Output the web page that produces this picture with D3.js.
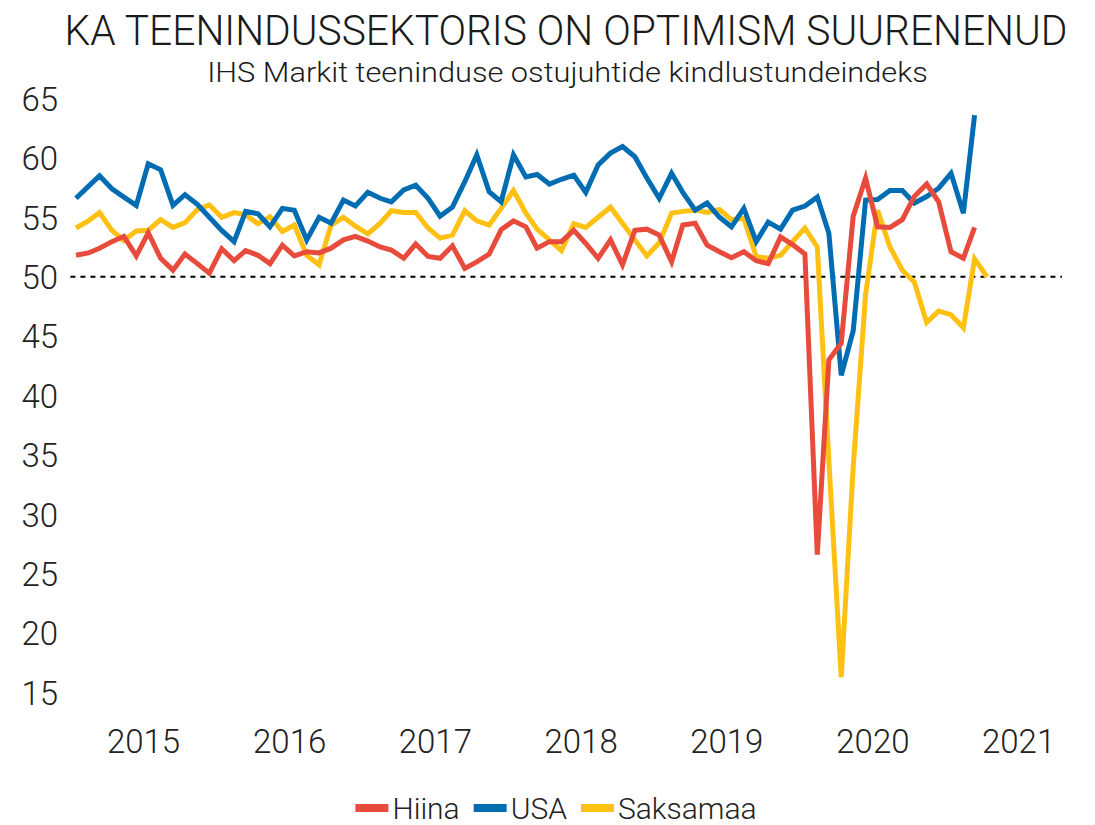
<!DOCTYPE html>
<html>
<head>
<meta charset="utf-8">
<script src="https://cdn.jsdelivr.net/npm/d3@7"></script>
<style>
  html, body { margin: 0; padding: 0; background: #fff; }
  svg { display: block; }
  text { font-family: Roboto, "Noto Sans", "DejaVu Sans", sans-serif; fill: #222; font-weight: 300; }
</style>
</head>
<body>
<svg id="chart" width="1095" height="825"></svg>
<script>
// ---- data ----
const startYear = 2015;
const startMonth = 0; // January 2015
const seriesNames = ["Hiina", "USA", "Saksamaa"];
const seriesColors = ["#e84a3b", "#006db3", "#ffc014"];

const hiina = [51.8, 52.0, 52.4, 52.95, 53.4, 51.75, 53.7, 51.55, 50.55, 51.9, 51.1, 50.3,
  52.35, 51.35, 52.2, 51.8, 51.1, 52.65, 51.75, 52.1, 52.0, 52.4, 53.1, 53.4,
  53.0, 52.5, 52.25, 51.55, 52.75, 51.7, 51.55, 52.6, 50.7, 51.25, 51.9, 53.95,
  54.7, 54.2, 52.4, 52.95, 52.95, 53.9, 52.8, 51.55, 53.1, 51.0, 53.9, 54.0,
  53.5, 51.25, 54.35, 54.5, 52.65, 52.1, 51.6, 52.1, 51.35, 51.1, 53.35, 52.7,
  51.9, 26.6, 43.0, 44.4, 55.1, 58.3, 54.2, 54.15, 54.8, 56.75, 57.8, 56.3,
  52.1, 51.55, 54.15];

const usa = [56.6, 57.6, 58.5, 57.4, 56.7, 56.0, 59.5, 59.0, 56.0, 56.9, 56.1, 55.0,
  53.9, 52.95, 55.5, 55.3, 54.2, 55.75, 55.6, 53.1, 55.0, 54.5, 56.45, 55.95,
  57.1, 56.6, 56.3, 57.3, 57.7, 56.6, 55.1, 55.85, 58.0, 60.25, 57.15, 56.3,
  60.25, 58.4, 58.6, 57.8, 58.2, 58.55, 57.1, 59.4, 60.4, 60.95, 60.1, 58.3,
  56.6, 58.7, 57.1, 55.6, 56.2, 55.0, 54.2, 55.75, 52.95, 54.6, 54.0, 55.6,
  55.95, 56.7, 53.65, 41.7, 45.45, 56.45, 56.5, 57.25, 57.25, 56.2, 56.75, 57.45,
  58.7, 55.35, 63.6];

const saksamaa = [54.1, 54.7, 55.4, 53.9, 53.05, 53.85, 53.9, 54.8, 54.15, 54.55, 55.65, 56.05,
  55.0, 55.4, 55.2, 54.45, 55.05, 53.8, 54.35, 51.8, 51.0, 54.35, 55.0, 54.25,
  53.6, 54.5, 55.55, 55.4, 55.4, 54.1, 53.25, 53.5, 55.55, 54.7, 54.35, 55.75,
  57.25, 55.35, 54.0, 53.1, 52.2, 54.45, 54.15, 55.0, 55.85, 54.5, 53.1, 51.75,
  52.85, 55.35, 55.5, 55.6, 55.4, 55.65, 54.8, 54.9, 51.7, 51.55, 51.8, 52.95,
  54.1, 52.5, 34.5, 16.3, 34.0, 48.5, 55.6, 52.5, 50.55, 49.55, 46.15, 47.1,
  46.8, 45.7, 51.5, 50.0];

const yTicks = [65, 60, 55, 50, 45, 40, 35, 30, 25, 20, 15];
const xYears = [2015, 2016, 2017, 2018, 2019, 2020, 2021];
const referenceLevel = 50;

const titleText = "KA TEENINDUSSEKTORIS ON OPTIMISM SUURENENUD";
const subtitleText = "IHS Markit teeninduse ostujuhtide kindlustundeindeks";

// ---- build ----
const svg = d3.select("#chart");
const allSeries = [hiina, usa, saksamaa].map((vals, i) => ({
  name: seriesNames[i],
  color: seriesColors[i],
  values: vals.map((v, k) => ({ date: new Date(startYear, startMonth + k, 15), value: v }))
}));

const x = d3.scaleTime()
  .domain([new Date(2015, 0, 1), new Date(2021, 9, 20)])
  .range([70.4, 1062]);
const y = d3.scaleLinear()
  .domain([15, 65])
  .range([692.5, 98.5]);

// title (horizontally condensed via transform to fit the reference width)
const titleG = svg.append("g");
const titleT = titleG.append("text")
  .attr("x", 0).attr("y", 0)
  .attr("text-anchor", "middle")
  .attr("font-size", 42)
  .style("fill", "#1a1a1a")
  .text(titleText);
const titleNatural = titleT.node().getComputedTextLength();
const titleScale = Math.min(1, 1003 / titleNatural);
titleG.attr("transform", `translate(566,45) scale(${titleScale},1)`);

const subG = svg.append("g");
const subT = subG.append("text")
  .attr("x", 0).attr("y", 0)
  .attr("text-anchor", "middle")
  .attr("font-size", 27)
  .style("fill", "#1a1a1a")
  .text(subtitleText);
const subNatural = subT.node().getComputedTextLength();
subG.attr("transform", `translate(567.5,82) scale(${721 / subNatural},1)`);

// y axis labels
const yAxis = d3.axisLeft(y).tickValues(yTicks).tickSize(0).tickPadding(0);
const gy = svg.append("g").attr("transform", "translate(58,0)").call(yAxis);
gy.select(".domain").remove();
gy.selectAll("text")
  .attr("font-size", 33)
  .attr("dy", "0.36em")
  .style("font-family", "Roboto, sans-serif")
  .style("font-weight", 300)
  .style("fill", "#222");

// x axis labels at mid-year
const xAxis = d3.axisBottom(x)
  .tickValues(xYears.map(yr => new Date(yr, 6, 2)))
  .tickFormat(d3.timeFormat("%Y"))
  .tickSize(0).tickPadding(0);
const gx = svg.append("g").attr("transform", "translate(0,730)").call(xAxis);
gx.select(".domain").remove();
gx.selectAll("text")
  .attr("font-size", 33)
  .attr("dy", "0.71em")
  .style("font-family", "Roboto, sans-serif")
  .style("font-weight", 300)
  .style("fill", "#222");

// reference dashed line
svg.append("line")
  .attr("x1", x.range()[0]).attr("x2", x.range()[1])
  .attr("y1", y(referenceLevel)).attr("y2", y(referenceLevel))
  .attr("stroke", "#000").attr("stroke-width", 2)
  .attr("stroke-dasharray", "5,5");

// lines
const line = d3.line().x(d => x(d.date)).y(d => y(d.value));
const drawOrder = [2, 1, 0];
drawOrder.forEach(i => {
  const s = allSeries[i];
  svg.append("path")
    .datum(s.values)
    .attr("fill", "none")
    .attr("stroke", s.color)
    .attr("stroke-width", 5)
    .attr("stroke-linejoin", "miter")
    .attr("stroke-miterlimit", 4)
    .attr("d", line);
});

// legend
const legend = svg.append("g");
let cx = 0;
allSeries.forEach((s, i) => {
  const g = legend.append("g");
  g.append("rect").attr("x", 0).attr("y", -4).attr("width", 33).attr("height", 8).attr("fill", s.color);
  const t = g.append("text").attr("x", 37).attr("y", 0).attr("dy", "0.36em")
    .attr("font-size", 30).style("fill", "#222").text(s.name);
  const w = 37 + t.node().getComputedTextLength();
  g.attr("transform", `translate(${cx},0)`);
  cx += w + 14;
});
const totalW = cx - 14;
legend.attr("transform", `translate(${556 - totalW / 2},808)`);
</script>
</body>
</html>
